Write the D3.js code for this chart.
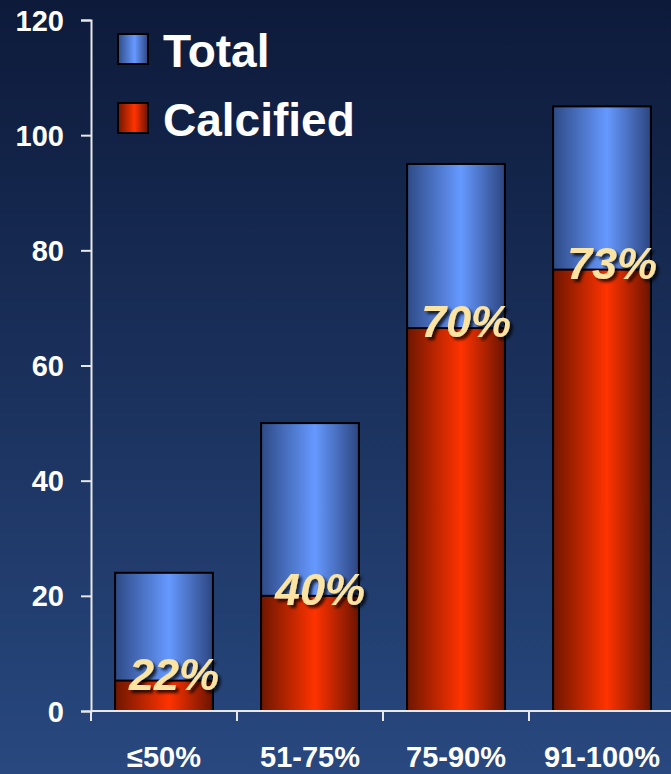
<!DOCTYPE html>
<html>
<head>
<meta charset="utf-8">
<script src="https://cdn.jsdelivr.net/npm/d3@7"></script>
<style>
  html, body { margin: 0; padding: 0; background: #1a2d5c; }
  svg { display: block; }
</style>
</head>
<body>
<svg id="chart" width="671" height="774"></svg>
<script>
// Stenosis grade groups
const categories = ["≤50%", "51-75%", "75-90%", "91-100%"];
// Total lesions per group
const totalValues = [24, 50, 95, 105];
// Share of lesions that are calcified (%)
const calcifiedPct = [22, 40, 70, 73];
// Y axis ticks
const yTicks = [0, 20, 40, 60, 80, 100, 120];
// Legend entries
const legendLabels = ["Total", "Calcified"];

const calcifiedValues = totalValues.map((t, i) => t * calcifiedPct[i] / 100);

const W = 671, H = 774;
const svg = d3.select("#chart");
const defs = svg.append("defs");

// Background: dark navy fading to lighter blue at the bottom
const bg = defs.append("linearGradient").attr("id", "bg")
  .attr("x1", 0).attr("y1", 0).attr("x2", 0).attr("y2", 1);
bg.append("stop").attr("offset", "0%").attr("stop-color", "#0d1a3a");
bg.append("stop").attr("offset", "100%").attr("stop-color", "#28487f");
svg.append("rect").attr("width", W).attr("height", H).attr("fill", "url(#bg)");

// Cylinder-like horizontal shading for the bars
function barGradient(id, edgeL, mid, edgeR) {
  const g = defs.append("linearGradient").attr("id", id)
    .attr("x1", 0).attr("y1", 0).attr("x2", 1).attr("y2", 0);
  g.append("stop").attr("offset", "0%").attr("stop-color", edgeL);
  g.append("stop").attr("offset", "55%").attr("stop-color", mid);
  g.append("stop").attr("offset", "100%").attr("stop-color", edgeR);
}
barGradient("gBlue", "#2e4a86", "#6699ff", "#2c4580");
barGradient("gRed", "#6e1600", "#ff3300", "#6a1400");

const shadow = defs.append("filter").attr("id", "txtShadow")
  .attr("x", "-20%").attr("y", "-20%").attr("width", "150%").attr("height", "150%");
shadow.append("feDropShadow").attr("dx", 3).attr("dy", 3)
  .attr("stdDeviation", 1.5).attr("flood-color", "#000").attr("flood-opacity", 0.75);

const x = d3.scaleBand().domain(categories).range([91, 675])
  .paddingInner(0.33).paddingOuter(0.165);
const y = d3.scaleLinear().domain([0, 120]).range([711, 20]);

const font = "'Liberation Sans', Arial, Helvetica, sans-serif";

// Total bars
svg.append("g").selectAll("rect").data(categories).join("rect")
  .attr("x", d => x(d))
  .attr("y", (d, i) => y(totalValues[i]))
  .attr("width", x.bandwidth())
  .attr("height", (d, i) => y(0) - y(totalValues[i]))
  .attr("fill", "url(#gBlue)")
  .attr("stroke", "#000").attr("stroke-width", 2);

// Calcified bars
svg.append("g").selectAll("rect").data(categories).join("rect")
  .attr("x", d => x(d))
  .attr("y", (d, i) => y(calcifiedValues[i]))
  .attr("width", x.bandwidth())
  .attr("height", (d, i) => y(0) - y(calcifiedValues[i]))
  .attr("fill", "url(#gRed)")
  .attr("stroke", "#000").attr("stroke-width", 2);

// Y axis
const yAxis = svg.append("g").attr("transform", "translate(91,0)")
  .call(d3.axisLeft(y).tickValues(yTicks).tickSize(10).tickPadding(17).tickFormat(d3.format("d")));
yAxis.select(".domain").attr("stroke", "#e8e8e8").attr("stroke-width", 2);
yAxis.selectAll(".tick line").attr("stroke", "#e8e8e8").attr("stroke-width", 2);
yAxis.selectAll(".tick text")
  .attr("fill", "#fff").attr("font-family", font)
  .attr("font-weight", "bold").attr("font-size", 29).attr("dy", "0.35em");

// X axis line with ticks at the group boundaries
const xAxis = svg.append("g");
xAxis.append("line")
  .attr("x1", 91).attr("x2", W).attr("y1", y(0)).attr("y2", y(0))
  .attr("stroke", "#e8e8e8").attr("stroke-width", 2);
const bounds = d3.range(categories.length + 1).map(i => x.range()[0] + i * x.step());
xAxis.selectAll("line.tk").data(bounds).join("line").attr("class", "tk")
  .attr("x1", d => d).attr("x2", d => d)
  .attr("y1", y(0)).attr("y2", y(0) + 10)
  .attr("stroke", "#e8e8e8").attr("stroke-width", 2);
xAxis.selectAll("text").data(categories).join("text")
  .attr("x", d => x(d) + x.bandwidth() / 2)
  .attr("y", 767)
  .attr("text-anchor", "middle")
  .attr("fill", "#fff").attr("font-family", font)
  .attr("font-weight", "bold").attr("font-size", 29)
  .text(d => d);

// Percentage labels near the top of each calcified bar
svg.append("g").selectAll("text").data(categories).join("text")
  .attr("x", d => x(d) + x.bandwidth() / 2 + 10)
  .attr("y", (d, i) => Math.min(y(calcifiedValues[i]) + 9, y(0) - 11))
  .attr("text-anchor", "middle")
  .attr("fill", "#fbe3a2").attr("font-family", font)
  .attr("font-weight", "bold").attr("font-style", "italic").attr("font-size", 45)
  .attr("filter", "url(#txtShadow)")
  .text((d, i) => calcifiedPct[i] + "%");

// Legend
const legend = svg.append("g");
const legendFills = ["url(#gBlue)", "url(#gRed)"];
legendLabels.forEach((lab, i) => {
  const gy = 34 + i * 69;
  legend.append("rect")
    .attr("x", 118).attr("y", gy).attr("width", 30).attr("height", 30)
    .attr("fill", legendFills[i]).attr("stroke", "#000").attr("stroke-width", 2);
  legend.append("text")
    .attr("x", 163).attr("y", gy + 33)
    .attr("fill", "#fff").attr("font-family", font)
    .attr("font-weight", "bold").attr("font-size", 46)
    .text(lab);
});
</script>
</body>
</html>
